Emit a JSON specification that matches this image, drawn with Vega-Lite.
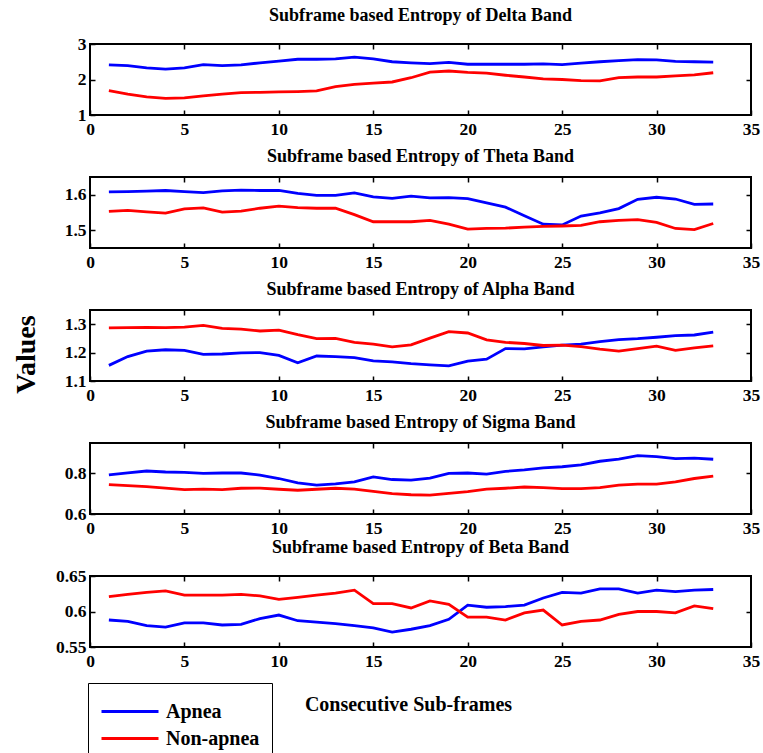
{
  "$schema": "https://vega.github.io/schema/vega-lite/v6.json",
  "background": "white",
  "padding": {"left": 10, "top": 6, "right": 5, "bottom": 5},
  "config": {
    "font": "Liberation Serif",
    "view": {"stroke": "black", "strokeWidth": 2},
    "axis": {
      "domain": false,
      "grid": false,
      "labelFlush": false,
      "labelFont": "Liberation Serif",
      "labelFontWeight": "bold",
      "labelFontSize": 17.5,
      "labelColor": "black",
      "tickColor": "black",
      "tickWidth": 1.5,
      "tickSize": -5,
      "titleFont": "Liberation Serif",
      "titleFontWeight": "bold",
      "titleColor": "black"
    },
    "axisX": {"labelPadding": 10.5},
    "axisY": {"labelPadding": 9},
    "title": {
      "font": "Liberation Serif",
      "fontWeight": "bold",
      "fontSize": 18,
      "color": "black",
      "anchor": "middle",
      "frame": "group",
      "baseline": "alphabetic",
      "offset": 10
    },
    "legend": {
      "orient": "none",
      "legendX": -2,
      "legendY": 639,
      "title": null,
      "strokeColor": "black",
      "fillColor": "white",
      "padding": 12,
      "symbolType": "M-1.9,0H1.9",
      "symbolSize": 900,
      "symbolStrokeWidth": 3,
      "symbolOffset": 13.5,
      "labelOffset": 19.5,
      "labelFont": "Liberation Serif",
      "labelFontWeight": "bold",
      "labelFontSize": 20,
      "labelColor": "black",
      "rowPadding": -6
    },
    "line": {"strokeWidth": 2.8}
  },
  "datasets": {
    "entropy": [
      {"band":"Delta","group":"Apnea","x":1,"v":2.41},{"band":"Delta","group":"Apnea","x":2,"v":2.39},{"band":"Delta","group":"Apnea","x":3,"v":2.33},{"band":"Delta","group":"Apnea","x":4,"v":2.29},{"band":"Delta","group":"Apnea","x":5,"v":2.33},{"band":"Delta","group":"Apnea","x":6,"v":2.42},{"band":"Delta","group":"Apnea","x":7,"v":2.39},{"band":"Delta","group":"Apnea","x":8,"v":2.41},{"band":"Delta","group":"Apnea","x":9,"v":2.47},{"band":"Delta","group":"Apnea","x":10,"v":2.52},{"band":"Delta","group":"Apnea","x":11,"v":2.57},{"band":"Delta","group":"Apnea","x":12,"v":2.57},{"band":"Delta","group":"Apnea","x":13,"v":2.58},{"band":"Delta","group":"Apnea","x":14,"v":2.63},{"band":"Delta","group":"Apnea","x":15,"v":2.58},{"band":"Delta","group":"Apnea","x":16,"v":2.50},{"band":"Delta","group":"Apnea","x":17,"v":2.47},{"band":"Delta","group":"Apnea","x":18,"v":2.45},{"band":"Delta","group":"Apnea","x":19,"v":2.48},{"band":"Delta","group":"Apnea","x":20,"v":2.43},{"band":"Delta","group":"Apnea","x":21,"v":2.43},{"band":"Delta","group":"Apnea","x":22,"v":2.43},{"band":"Delta","group":"Apnea","x":23,"v":2.43},{"band":"Delta","group":"Apnea","x":24,"v":2.44},{"band":"Delta","group":"Apnea","x":25,"v":2.42},{"band":"Delta","group":"Apnea","x":26,"v":2.46},{"band":"Delta","group":"Apnea","x":27,"v":2.50},{"band":"Delta","group":"Apnea","x":28,"v":2.53},{"band":"Delta","group":"Apnea","x":29,"v":2.56},{"band":"Delta","group":"Apnea","x":30,"v":2.55},{"band":"Delta","group":"Apnea","x":31,"v":2.51},{"band":"Delta","group":"Apnea","x":32,"v":2.50},{"band":"Delta","group":"Apnea","x":33,"v":2.49},
      {"band":"Delta","group":"Non-apnea","x":1,"v":1.69},{"band":"Delta","group":"Non-apnea","x":2,"v":1.59},{"band":"Delta","group":"Non-apnea","x":3,"v":1.51},{"band":"Delta","group":"Non-apnea","x":4,"v":1.47},{"band":"Delta","group":"Non-apnea","x":5,"v":1.48},{"band":"Delta","group":"Non-apnea","x":6,"v":1.54},{"band":"Delta","group":"Non-apnea","x":7,"v":1.59},{"band":"Delta","group":"Non-apnea","x":8,"v":1.63},{"band":"Delta","group":"Non-apnea","x":9,"v":1.64},{"band":"Delta","group":"Non-apnea","x":10,"v":1.65},{"band":"Delta","group":"Non-apnea","x":11,"v":1.66},{"band":"Delta","group":"Non-apnea","x":12,"v":1.68},{"band":"Delta","group":"Non-apnea","x":13,"v":1.80},{"band":"Delta","group":"Non-apnea","x":14,"v":1.86},{"band":"Delta","group":"Non-apnea","x":15,"v":1.90},{"band":"Delta","group":"Non-apnea","x":16,"v":1.93},{"band":"Delta","group":"Non-apnea","x":17,"v":2.05},{"band":"Delta","group":"Non-apnea","x":18,"v":2.21},{"band":"Delta","group":"Non-apnea","x":19,"v":2.24},{"band":"Delta","group":"Non-apnea","x":20,"v":2.20},{"band":"Delta","group":"Non-apnea","x":21,"v":2.18},{"band":"Delta","group":"Non-apnea","x":22,"v":2.12},{"band":"Delta","group":"Non-apnea","x":23,"v":2.07},{"band":"Delta","group":"Non-apnea","x":24,"v":2.02},{"band":"Delta","group":"Non-apnea","x":25,"v":2.00},{"band":"Delta","group":"Non-apnea","x":26,"v":1.97},{"band":"Delta","group":"Non-apnea","x":27,"v":1.96},{"band":"Delta","group":"Non-apnea","x":28,"v":2.05},{"band":"Delta","group":"Non-apnea","x":29,"v":2.07},{"band":"Delta","group":"Non-apnea","x":30,"v":2.07},{"band":"Delta","group":"Non-apnea","x":31,"v":2.10},{"band":"Delta","group":"Non-apnea","x":32,"v":2.13},{"band":"Delta","group":"Non-apnea","x":33,"v":2.19},
      {"band":"Theta","group":"Apnea","x":1,"v":1.608},{"band":"Theta","group":"Apnea","x":2,"v":1.609},{"band":"Theta","group":"Apnea","x":3,"v":1.610},{"band":"Theta","group":"Apnea","x":4,"v":1.612},{"band":"Theta","group":"Apnea","x":5,"v":1.609},{"band":"Theta","group":"Apnea","x":6,"v":1.606},{"band":"Theta","group":"Apnea","x":7,"v":1.611},{"band":"Theta","group":"Apnea","x":8,"v":1.613},{"band":"Theta","group":"Apnea","x":9,"v":1.612},{"band":"Theta","group":"Apnea","x":10,"v":1.612},{"band":"Theta","group":"Apnea","x":11,"v":1.604},{"band":"Theta","group":"Apnea","x":12,"v":1.598},{"band":"Theta","group":"Apnea","x":13,"v":1.598},{"band":"Theta","group":"Apnea","x":14,"v":1.605},{"band":"Theta","group":"Apnea","x":15,"v":1.594},{"band":"Theta","group":"Apnea","x":16,"v":1.590},{"band":"Theta","group":"Apnea","x":17,"v":1.596},{"band":"Theta","group":"Apnea","x":18,"v":1.591},{"band":"Theta","group":"Apnea","x":19,"v":1.592},{"band":"Theta","group":"Apnea","x":20,"v":1.589},{"band":"Theta","group":"Apnea","x":21,"v":1.577},{"band":"Theta","group":"Apnea","x":22,"v":1.565},{"band":"Theta","group":"Apnea","x":23,"v":1.541},{"band":"Theta","group":"Apnea","x":24,"v":1.517},{"band":"Theta","group":"Apnea","x":25,"v":1.515},{"band":"Theta","group":"Apnea","x":26,"v":1.540},{"band":"Theta","group":"Apnea","x":27,"v":1.549},{"band":"Theta","group":"Apnea","x":28,"v":1.561},{"band":"Theta","group":"Apnea","x":29,"v":1.587},{"band":"Theta","group":"Apnea","x":30,"v":1.593},{"band":"Theta","group":"Apnea","x":31,"v":1.588},{"band":"Theta","group":"Apnea","x":32,"v":1.573},{"band":"Theta","group":"Apnea","x":33,"v":1.574},
      {"band":"Theta","group":"Non-apnea","x":1,"v":1.553},{"band":"Theta","group":"Non-apnea","x":2,"v":1.556},{"band":"Theta","group":"Non-apnea","x":3,"v":1.552},{"band":"Theta","group":"Non-apnea","x":4,"v":1.548},{"band":"Theta","group":"Non-apnea","x":5,"v":1.560},{"band":"Theta","group":"Non-apnea","x":6,"v":1.563},{"band":"Theta","group":"Non-apnea","x":7,"v":1.551},{"band":"Theta","group":"Non-apnea","x":8,"v":1.554},{"band":"Theta","group":"Non-apnea","x":9,"v":1.562},{"band":"Theta","group":"Non-apnea","x":10,"v":1.568},{"band":"Theta","group":"Non-apnea","x":11,"v":1.564},{"band":"Theta","group":"Non-apnea","x":12,"v":1.562},{"band":"Theta","group":"Non-apnea","x":13,"v":1.562},{"band":"Theta","group":"Non-apnea","x":14,"v":1.544},{"band":"Theta","group":"Non-apnea","x":15,"v":1.524},{"band":"Theta","group":"Non-apnea","x":16,"v":1.524},{"band":"Theta","group":"Non-apnea","x":17,"v":1.524},{"band":"Theta","group":"Non-apnea","x":18,"v":1.528},{"band":"Theta","group":"Non-apnea","x":19,"v":1.517},{"band":"Theta","group":"Non-apnea","x":20,"v":1.503},{"band":"Theta","group":"Non-apnea","x":21,"v":1.505},{"band":"Theta","group":"Non-apnea","x":22,"v":1.506},{"band":"Theta","group":"Non-apnea","x":23,"v":1.509},{"band":"Theta","group":"Non-apnea","x":24,"v":1.511},{"band":"Theta","group":"Non-apnea","x":25,"v":1.512},{"band":"Theta","group":"Non-apnea","x":26,"v":1.514},{"band":"Theta","group":"Non-apnea","x":27,"v":1.524},{"band":"Theta","group":"Non-apnea","x":28,"v":1.528},{"band":"Theta","group":"Non-apnea","x":29,"v":1.530},{"band":"Theta","group":"Non-apnea","x":30,"v":1.522},{"band":"Theta","group":"Non-apnea","x":31,"v":1.505},{"band":"Theta","group":"Non-apnea","x":32,"v":1.502},{"band":"Theta","group":"Non-apnea","x":33,"v":1.519},
      {"band":"Alpha","group":"Apnea","x":1,"v":1.155},{"band":"Alpha","group":"Apnea","x":2,"v":1.186},{"band":"Alpha","group":"Apnea","x":3,"v":1.205},{"band":"Alpha","group":"Apnea","x":4,"v":1.210},{"band":"Alpha","group":"Apnea","x":5,"v":1.208},{"band":"Alpha","group":"Apnea","x":6,"v":1.194},{"band":"Alpha","group":"Apnea","x":7,"v":1.195},{"band":"Alpha","group":"Apnea","x":8,"v":1.199},{"band":"Alpha","group":"Apnea","x":9,"v":1.200},{"band":"Alpha","group":"Apnea","x":10,"v":1.190},{"band":"Alpha","group":"Apnea","x":11,"v":1.164},{"band":"Alpha","group":"Apnea","x":12,"v":1.188},{"band":"Alpha","group":"Apnea","x":13,"v":1.186},{"band":"Alpha","group":"Apnea","x":14,"v":1.182},{"band":"Alpha","group":"Apnea","x":15,"v":1.171},{"band":"Alpha","group":"Apnea","x":16,"v":1.167},{"band":"Alpha","group":"Apnea","x":17,"v":1.161},{"band":"Alpha","group":"Apnea","x":18,"v":1.157},{"band":"Alpha","group":"Apnea","x":19,"v":1.153},{"band":"Alpha","group":"Apnea","x":20,"v":1.170},{"band":"Alpha","group":"Apnea","x":21,"v":1.177},{"band":"Alpha","group":"Apnea","x":22,"v":1.214},{"band":"Alpha","group":"Apnea","x":23,"v":1.213},{"band":"Alpha","group":"Apnea","x":24,"v":1.220},{"band":"Alpha","group":"Apnea","x":25,"v":1.226},{"band":"Alpha","group":"Apnea","x":26,"v":1.230},{"band":"Alpha","group":"Apnea","x":27,"v":1.239},{"band":"Alpha","group":"Apnea","x":28,"v":1.246},{"band":"Alpha","group":"Apnea","x":29,"v":1.249},{"band":"Alpha","group":"Apnea","x":30,"v":1.254},{"band":"Alpha","group":"Apnea","x":31,"v":1.260},{"band":"Alpha","group":"Apnea","x":32,"v":1.262},{"band":"Alpha","group":"Apnea","x":33,"v":1.272},
      {"band":"Alpha","group":"Non-apnea","x":1,"v":1.287},{"band":"Alpha","group":"Non-apnea","x":2,"v":1.288},{"band":"Alpha","group":"Non-apnea","x":3,"v":1.289},{"band":"Alpha","group":"Non-apnea","x":4,"v":1.288},{"band":"Alpha","group":"Non-apnea","x":5,"v":1.290},{"band":"Alpha","group":"Non-apnea","x":6,"v":1.296},{"band":"Alpha","group":"Non-apnea","x":7,"v":1.285},{"band":"Alpha","group":"Non-apnea","x":8,"v":1.283},{"band":"Alpha","group":"Non-apnea","x":9,"v":1.276},{"band":"Alpha","group":"Non-apnea","x":10,"v":1.279},{"band":"Alpha","group":"Non-apnea","x":11,"v":1.263},{"band":"Alpha","group":"Non-apnea","x":12,"v":1.249},{"band":"Alpha","group":"Non-apnea","x":13,"v":1.250},{"band":"Alpha","group":"Non-apnea","x":14,"v":1.236},{"band":"Alpha","group":"Non-apnea","x":15,"v":1.230},{"band":"Alpha","group":"Non-apnea","x":16,"v":1.220},{"band":"Alpha","group":"Non-apnea","x":17,"v":1.227},{"band":"Alpha","group":"Non-apnea","x":18,"v":1.251},{"band":"Alpha","group":"Non-apnea","x":19,"v":1.274},{"band":"Alpha","group":"Non-apnea","x":20,"v":1.269},{"band":"Alpha","group":"Non-apnea","x":21,"v":1.245},{"band":"Alpha","group":"Non-apnea","x":22,"v":1.236},{"band":"Alpha","group":"Non-apnea","x":23,"v":1.232},{"band":"Alpha","group":"Non-apnea","x":24,"v":1.225},{"band":"Alpha","group":"Non-apnea","x":25,"v":1.226},{"band":"Alpha","group":"Non-apnea","x":26,"v":1.221},{"band":"Alpha","group":"Non-apnea","x":27,"v":1.212},{"band":"Alpha","group":"Non-apnea","x":28,"v":1.205},{"band":"Alpha","group":"Non-apnea","x":29,"v":1.214},{"band":"Alpha","group":"Non-apnea","x":30,"v":1.223},{"band":"Alpha","group":"Non-apnea","x":31,"v":1.208},{"band":"Alpha","group":"Non-apnea","x":32,"v":1.217},{"band":"Alpha","group":"Non-apnea","x":33,"v":1.224},
      {"band":"Sigma","group":"Apnea","x":1,"v":0.793},{"band":"Sigma","group":"Apnea","x":2,"v":0.803},{"band":"Sigma","group":"Apnea","x":3,"v":0.812},{"band":"Sigma","group":"Apnea","x":4,"v":0.807},{"band":"Sigma","group":"Apnea","x":5,"v":0.805},{"band":"Sigma","group":"Apnea","x":6,"v":0.800},{"band":"Sigma","group":"Apnea","x":7,"v":0.802},{"band":"Sigma","group":"Apnea","x":8,"v":0.802},{"band":"Sigma","group":"Apnea","x":9,"v":0.792},{"band":"Sigma","group":"Apnea","x":10,"v":0.775},{"band":"Sigma","group":"Apnea","x":11,"v":0.753},{"band":"Sigma","group":"Apnea","x":12,"v":0.742},{"band":"Sigma","group":"Apnea","x":13,"v":0.748},{"band":"Sigma","group":"Apnea","x":14,"v":0.758},{"band":"Sigma","group":"Apnea","x":15,"v":0.783},{"band":"Sigma","group":"Apnea","x":16,"v":0.770},{"band":"Sigma","group":"Apnea","x":17,"v":0.767},{"band":"Sigma","group":"Apnea","x":18,"v":0.777},{"band":"Sigma","group":"Apnea","x":19,"v":0.800},{"band":"Sigma","group":"Apnea","x":20,"v":0.802},{"band":"Sigma","group":"Apnea","x":21,"v":0.797},{"band":"Sigma","group":"Apnea","x":22,"v":0.810},{"band":"Sigma","group":"Apnea","x":23,"v":0.817},{"band":"Sigma","group":"Apnea","x":24,"v":0.827},{"band":"Sigma","group":"Apnea","x":25,"v":0.833},{"band":"Sigma","group":"Apnea","x":26,"v":0.842},{"band":"Sigma","group":"Apnea","x":27,"v":0.860},{"band":"Sigma","group":"Apnea","x":28,"v":0.870},{"band":"Sigma","group":"Apnea","x":29,"v":0.888},{"band":"Sigma","group":"Apnea","x":30,"v":0.883},{"band":"Sigma","group":"Apnea","x":31,"v":0.873},{"band":"Sigma","group":"Apnea","x":32,"v":0.875},{"band":"Sigma","group":"Apnea","x":33,"v":0.870},
      {"band":"Sigma","group":"Non-apnea","x":1,"v":0.745},{"band":"Sigma","group":"Non-apnea","x":2,"v":0.740},{"band":"Sigma","group":"Non-apnea","x":3,"v":0.735},{"band":"Sigma","group":"Non-apnea","x":4,"v":0.728},{"band":"Sigma","group":"Non-apnea","x":5,"v":0.720},{"band":"Sigma","group":"Non-apnea","x":6,"v":0.723},{"band":"Sigma","group":"Non-apnea","x":7,"v":0.720},{"band":"Sigma","group":"Non-apnea","x":8,"v":0.727},{"band":"Sigma","group":"Non-apnea","x":9,"v":0.728},{"band":"Sigma","group":"Non-apnea","x":10,"v":0.722},{"band":"Sigma","group":"Non-apnea","x":11,"v":0.717},{"band":"Sigma","group":"Non-apnea","x":12,"v":0.722},{"band":"Sigma","group":"Non-apnea","x":13,"v":0.727},{"band":"Sigma","group":"Non-apnea","x":14,"v":0.723},{"band":"Sigma","group":"Non-apnea","x":15,"v":0.712},{"band":"Sigma","group":"Non-apnea","x":16,"v":0.700},{"band":"Sigma","group":"Non-apnea","x":17,"v":0.695},{"band":"Sigma","group":"Non-apnea","x":18,"v":0.693},{"band":"Sigma","group":"Non-apnea","x":19,"v":0.702},{"band":"Sigma","group":"Non-apnea","x":20,"v":0.710},{"band":"Sigma","group":"Non-apnea","x":21,"v":0.723},{"band":"Sigma","group":"Non-apnea","x":22,"v":0.727},{"band":"Sigma","group":"Non-apnea","x":23,"v":0.733},{"band":"Sigma","group":"Non-apnea","x":24,"v":0.730},{"band":"Sigma","group":"Non-apnea","x":25,"v":0.725},{"band":"Sigma","group":"Non-apnea","x":26,"v":0.725},{"band":"Sigma","group":"Non-apnea","x":27,"v":0.730},{"band":"Sigma","group":"Non-apnea","x":28,"v":0.742},{"band":"Sigma","group":"Non-apnea","x":29,"v":0.747},{"band":"Sigma","group":"Non-apnea","x":30,"v":0.747},{"band":"Sigma","group":"Non-apnea","x":31,"v":0.758},{"band":"Sigma","group":"Non-apnea","x":32,"v":0.775},{"band":"Sigma","group":"Non-apnea","x":33,"v":0.787},
      {"band":"Beta","group":"Apnea","x":1,"v":0.588},{"band":"Beta","group":"Apnea","x":2,"v":0.586},{"band":"Beta","group":"Apnea","x":3,"v":0.580},{"band":"Beta","group":"Apnea","x":4,"v":0.578},{"band":"Beta","group":"Apnea","x":5,"v":0.584},{"band":"Beta","group":"Apnea","x":6,"v":0.584},{"band":"Beta","group":"Apnea","x":7,"v":0.581},{"band":"Beta","group":"Apnea","x":8,"v":0.582},{"band":"Beta","group":"Apnea","x":9,"v":0.590},{"band":"Beta","group":"Apnea","x":10,"v":0.595},{"band":"Beta","group":"Apnea","x":11,"v":0.587},{"band":"Beta","group":"Apnea","x":12,"v":0.585},{"band":"Beta","group":"Apnea","x":13,"v":0.583},{"band":"Beta","group":"Apnea","x":14,"v":0.580},{"band":"Beta","group":"Apnea","x":15,"v":0.577},{"band":"Beta","group":"Apnea","x":16,"v":0.571},{"band":"Beta","group":"Apnea","x":17,"v":0.575},{"band":"Beta","group":"Apnea","x":18,"v":0.580},{"band":"Beta","group":"Apnea","x":19,"v":0.589},{"band":"Beta","group":"Apnea","x":20,"v":0.609},{"band":"Beta","group":"Apnea","x":21,"v":0.606},{"band":"Beta","group":"Apnea","x":22,"v":0.607},{"band":"Beta","group":"Apnea","x":23,"v":0.609},{"band":"Beta","group":"Apnea","x":24,"v":0.619},{"band":"Beta","group":"Apnea","x":25,"v":0.627},{"band":"Beta","group":"Apnea","x":26,"v":0.626},{"band":"Beta","group":"Apnea","x":27,"v":0.632},{"band":"Beta","group":"Apnea","x":28,"v":0.632},{"band":"Beta","group":"Apnea","x":29,"v":0.626},{"band":"Beta","group":"Apnea","x":30,"v":0.630},{"band":"Beta","group":"Apnea","x":31,"v":0.628},{"band":"Beta","group":"Apnea","x":32,"v":0.630},{"band":"Beta","group":"Apnea","x":33,"v":0.631},
      {"band":"Beta","group":"Non-apnea","x":1,"v":0.621},{"band":"Beta","group":"Non-apnea","x":2,"v":0.624},{"band":"Beta","group":"Non-apnea","x":3,"v":0.627},{"band":"Beta","group":"Non-apnea","x":4,"v":0.629},{"band":"Beta","group":"Non-apnea","x":5,"v":0.623},{"band":"Beta","group":"Non-apnea","x":6,"v":0.623},{"band":"Beta","group":"Non-apnea","x":7,"v":0.623},{"band":"Beta","group":"Non-apnea","x":8,"v":0.624},{"band":"Beta","group":"Non-apnea","x":9,"v":0.622},{"band":"Beta","group":"Non-apnea","x":10,"v":0.617},{"band":"Beta","group":"Non-apnea","x":11,"v":0.620},{"band":"Beta","group":"Non-apnea","x":12,"v":0.623},{"band":"Beta","group":"Non-apnea","x":13,"v":0.626},{"band":"Beta","group":"Non-apnea","x":14,"v":0.630},{"band":"Beta","group":"Non-apnea","x":15,"v":0.611},{"band":"Beta","group":"Non-apnea","x":16,"v":0.611},{"band":"Beta","group":"Non-apnea","x":17,"v":0.605},{"band":"Beta","group":"Non-apnea","x":18,"v":0.615},{"band":"Beta","group":"Non-apnea","x":19,"v":0.610},{"band":"Beta","group":"Non-apnea","x":20,"v":0.592},{"band":"Beta","group":"Non-apnea","x":21,"v":0.592},{"band":"Beta","group":"Non-apnea","x":22,"v":0.588},{"band":"Beta","group":"Non-apnea","x":23,"v":0.598},{"band":"Beta","group":"Non-apnea","x":24,"v":0.602},{"band":"Beta","group":"Non-apnea","x":25,"v":0.581},{"band":"Beta","group":"Non-apnea","x":26,"v":0.586},{"band":"Beta","group":"Non-apnea","x":27,"v":0.588},{"band":"Beta","group":"Non-apnea","x":28,"v":0.596},{"band":"Beta","group":"Non-apnea","x":29,"v":0.600},{"band":"Beta","group":"Non-apnea","x":30,"v":0.600},{"band":"Beta","group":"Non-apnea","x":31,"v":0.598},{"band":"Beta","group":"Non-apnea","x":32,"v":0.608},{"band":"Beta","group":"Non-apnea","x":33,"v":0.604}
    ]
  },
  "data": {"name": "entropy"},
  "spacing": 62,
  "bounds": "flush",
  "resolve": {"scale": {"y": "independent"}},
  "vconcat": [
    {
      "title": "Subframe based Entropy of Delta Band",
      "width": 661, "height": 71,
      "transform": [{"filter": "datum.band === 'Delta'"}],
      "layer": [
        {"mark": "line", "encoding": {
          "x": {"field": "x", "type": "quantitative", "scale": {"domain": [0, 35], "nice": false}, "axis": {"values": [0,5,10,15,20,25,30,35], "title": null}},
          "y": {"field": "v", "type": "quantitative", "scale": {"domain": [1, 3], "nice": false, "zero": false}, "axis": {"values": [1,2,3], "format": ".0f", "title": null}},
          "color": {"field": "group", "type": "nominal", "scale": {"domain": ["Apnea", "Non-apnea"], "range": ["#0000ff", "#ff0000"]}}
        }},
        {"mark": {"type": "line", "strokeOpacity": 0}, "encoding": {
          "x": {"field": "x", "type": "quantitative", "axis": {"orient": "top", "values": [5,10,15,20,25,30], "labels": false, "title": null}},
          "y": {"field": "v", "type": "quantitative", "axis": {"orient": "right", "values": [2], "labels": false, "title": null}},
          "detail": {"field": "group"}
        }}
      ],
      "resolve": {"axis": {"x": "independent", "y": "independent"}}
    },
    {
      "title": "Subframe based Entropy of Theta Band",
      "width": 661, "height": 71,
      "transform": [{"filter": "datum.band === 'Theta'"}],
      "layer": [
        {"mark": "line", "encoding": {
          "x": {"field": "x", "type": "quantitative", "scale": {"domain": [0, 35], "nice": false}, "axis": {"values": [0,5,10,15,20,25,30,35], "title": null}},
          "y": {"field": "v", "type": "quantitative", "scale": {"domain": [1.45, 1.65], "nice": false, "zero": false}, "axis": {"values": [1.5,1.6], "format": ".1f", "title": null}},
          "color": {"field": "group", "type": "nominal", "scale": {"domain": ["Apnea", "Non-apnea"], "range": ["#0000ff", "#ff0000"]}}
        }},
        {"mark": {"type": "line", "strokeOpacity": 0}, "encoding": {
          "x": {"field": "x", "type": "quantitative", "axis": {"orient": "top", "values": [5,10,15,20,25,30], "labels": false, "title": null}},
          "y": {"field": "v", "type": "quantitative", "axis": {"orient": "right", "values": [1.5,1.6], "labels": false, "title": null}},
          "detail": {"field": "group"}
        }}
      ],
      "resolve": {"axis": {"x": "independent", "y": "independent"}}
    },
    {
      "title": "Subframe based Entropy of Alpha Band",
      "width": 661, "height": 71,
      "transform": [{"filter": "datum.band === 'Alpha'"}],
      "layer": [
        {"mark": "line", "encoding": {
          "x": {"field": "x", "type": "quantitative", "scale": {"domain": [0, 35], "nice": false}, "axis": {"values": [0,5,10,15,20,25,30,35], "title": null}},
          "y": {"field": "v", "type": "quantitative", "scale": {"domain": [1.1, 1.35], "nice": false, "zero": false}, "axis": {"values": [1.1,1.2,1.3], "format": ".1f", "title": "Values", "titleFontSize": 28, "titleX": -64, "titleY": 44, "titleAngle": 270, "titleAlign": "center", "titleBaseline": "middle"}},
          "color": {"field": "group", "type": "nominal", "scale": {"domain": ["Apnea", "Non-apnea"], "range": ["#0000ff", "#ff0000"]}}
        }},
        {"mark": {"type": "line", "strokeOpacity": 0}, "encoding": {
          "x": {"field": "x", "type": "quantitative", "axis": {"orient": "top", "values": [5,10,15,20,25,30], "labels": false, "title": null}},
          "y": {"field": "v", "type": "quantitative", "axis": {"orient": "right", "values": [1.2,1.3], "labels": false, "title": null}},
          "detail": {"field": "group"}
        }}
      ],
      "resolve": {"axis": {"x": "independent", "y": "independent"}}
    },
    {
      "title": "Subframe based Entropy of Sigma Band",
      "width": 661, "height": 71,
      "transform": [{"filter": "datum.band === 'Sigma'"}],
      "layer": [
        {"mark": "line", "encoding": {
          "x": {"field": "x", "type": "quantitative", "scale": {"domain": [0, 35], "nice": false}, "axis": {"values": [0,5,10,15,20,25,30,35], "title": null}},
          "y": {"field": "v", "type": "quantitative", "scale": {"domain": [0.6, 0.95], "nice": false, "zero": false}, "axis": {"values": [0.6,0.8], "format": ".1f", "title": null}},
          "color": {"field": "group", "type": "nominal", "scale": {"domain": ["Apnea", "Non-apnea"], "range": ["#0000ff", "#ff0000"]}}
        }},
        {"mark": {"type": "line", "strokeOpacity": 0}, "encoding": {
          "x": {"field": "x", "type": "quantitative", "axis": {"orient": "top", "values": [5,10,15,20,25,30], "labels": false, "title": null}},
          "y": {"field": "v", "type": "quantitative", "axis": {"orient": "right", "values": [0.8], "labels": false, "title": null}},
          "detail": {"field": "group"}
        }}
      ],
      "resolve": {"axis": {"x": "independent", "y": "independent"}}
    },
    {
      "title": "Subframe based Entropy of Beta Band",
      "width": 661, "height": 71,
      "transform": [{"filter": "datum.band === 'Beta'"}],
      "layer": [
        {"mark": "line", "encoding": {
          "x": {"field": "x", "type": "quantitative", "scale": {"domain": [0, 35], "nice": false}, "axis": {"values": [0,5,10,15,20,25,30,35], "title": "Consecutive Sub-frames", "titleFontSize": 20, "titleX": 318, "titleY": 57, "titleAlign": "center", "titleBaseline": "middle"}},
          "y": {"field": "v", "type": "quantitative", "scale": {"domain": [0.55, 0.65], "nice": false, "zero": false}, "axis": {"values": [0.55,0.6,0.65], "format": ".2~f", "title": null}},
          "color": {"field": "group", "type": "nominal", "scale": {"domain": ["Apnea", "Non-apnea"], "range": ["#0000ff", "#ff0000"]}}
        }},
        {"mark": {"type": "line", "strokeOpacity": 0}, "encoding": {
          "x": {"field": "x", "type": "quantitative", "axis": {"orient": "top", "values": [5,10,15,20,25,30], "labels": false, "title": null}},
          "y": {"field": "v", "type": "quantitative", "axis": {"orient": "right", "values": [0.6], "labels": false, "title": null}},
          "detail": {"field": "group"}
        }}
      ],
      "resolve": {"axis": {"x": "independent", "y": "independent"}}
    }
  ]
}
